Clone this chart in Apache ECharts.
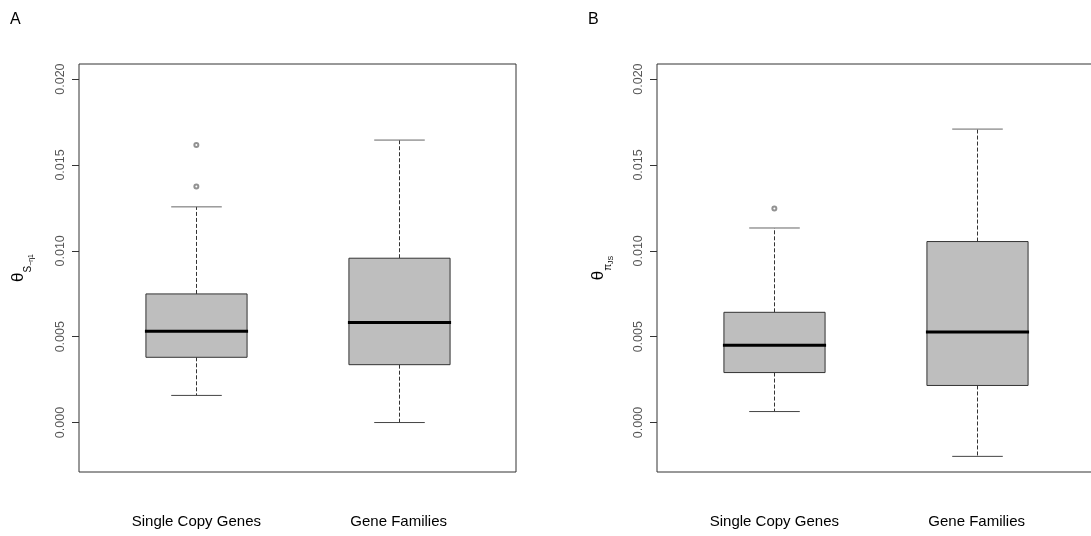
<!DOCTYPE html>
<html>
<head>
<meta charset="utf-8">
<script src="https://cdn.jsdelivr.net/npm/echarts@6/dist/echarts.min.js"></script>
<style>
html,body{margin:0;padding:0;background:#fff;}
#chart{width:1091px;height:536px;}
</style>
</head>
<body>
<div id="chart"></div>
<script>
// ---- data ----
var categories = ['Single Copy Genes', 'Gene Families'];
// [lowerWhisker, Q1, median, Q3, upperWhisker]
var thetaSBoxes = [
  [0.00158, 0.00380, 0.00532, 0.00749, 0.01256],
  [0.00000, 0.00337, 0.00583, 0.00957, 0.01645]
];
var thetaSOutliers = [[0, 0.01616], [0, 0.01374]];
var thetaPiBoxes = [
  [0.00064, 0.00291, 0.00450, 0.00642, 0.01133],
  [-0.00197, 0.00216, 0.00528, 0.01054, 0.01709]
];
var thetaPiOutliers = [[0, 0.01246]];
var yTicks = [0, 0.005, 0.010, 0.015, 0.020];
var yMin = -0.00288, yMax = 0.02088;

var FONT = 'Liberation Sans, Arial, sans-serif';

function boxData(boxes) {
  return boxes.map(function (b, i) { return [i].concat(b); });
}

function renderBox(params, api) {
  var x = api.value(0);
  var lo = api.coord([x, api.value(1)]);
  var q1 = api.coord([x, api.value(2)]);
  var md = api.coord([x, api.value(3)]);
  var q3 = api.coord([x, api.value(4)]);
  var hi = api.coord([x, api.value(5)]);
  var band = api.size([1, 0])[0];
  var bw = band * 0.5;
  var cx = Math.round(q1[0]) + 0.5;
  var half = bw / 2, capHalf = bw / 4;
  var dashStyle = { stroke: '#333', lineWidth: 1, lineDash: [4, 2] };
  return {
    type: 'group',
    children: [
      { type: 'line', shape: { x1: cx, y1: q3[1], x2: cx, y2: hi[1] }, style: dashStyle },
      { type: 'line', shape: { x1: cx, y1: q1[1], x2: cx, y2: lo[1] }, style: dashStyle },
      { type: 'line', shape: { x1: cx - capHalf, y1: hi[1], x2: cx + capHalf, y2: hi[1] }, style: { stroke: '#666', lineWidth: 1 } },
      { type: 'line', shape: { x1: cx - capHalf, y1: lo[1], x2: cx + capHalf, y2: lo[1] }, style: { stroke: '#444', lineWidth: 1 } },
      { type: 'rect', shape: { x: cx - half, y: q3[1], width: bw, height: q1[1] - q3[1] },
        style: { fill: '#bebebe', stroke: '#333', lineWidth: 1 } },
      { type: 'line', shape: { x1: cx - half - 1, y1: md[1], x2: cx + half + 1, y2: md[1] },
        style: { stroke: '#000', lineWidth: 3 } }
    ]
  };
}

var plotTop = 64, plotH = 408, frameW = 437;
var frames = [79, 657];
var inset = 16.2, innerW = 404.6;

var grids = [], xAxes = [], yAxes = [], series = [];
var yNames = ['{t|θ}{s|S}{ss|−η1}', '{t|θ}{s|π}{ss|JS}'];
var nameGaps = [44, 42];
var boxesList = [thetaSBoxes, thetaPiBoxes];
var outList = [thetaSOutliers, thetaPiOutliers];

frames.forEach(function (left, p) {
  grids.push({ left: left, top: plotTop, width: frameW, height: plotH, show: true,
    borderColor: '#333', borderWidth: 1, backgroundColor: 'transparent',
    outerBoundsMode: 'none', containLabel: false });
  grids.push({ left: left + inset, top: plotTop, width: innerW, height: plotH,
    outerBoundsMode: 'none', containLabel: false });
  var gf = p * 2, gd = p * 2 + 1;
  xAxes.push({ gridIndex: gf, type: 'value', min: 0, max: 1, show: false });
  xAxes.push({ gridIndex: gd, type: 'category', data: categories,
    axisLine: { show: false }, axisTick: { show: false }, splitLine: { show: false },
    axisLabel: { margin: 42, fontSize: 15, color: '#000', fontFamily: FONT } });
  yAxes.push({ gridIndex: gf, type: 'value', min: yMin, max: yMax,
    splitLine: { show: false },
    axisLine: { show: false },
    axisTick: { show: true, length: 7, lineStyle: { color: '#333' }, customValues: yTicks },
    axisLabel: { rotate: 90, margin: 12, fontSize: 12.5, color: '#555', fontFamily: FONT,
      customValues: yTicks,
      formatter: function (v) { return v.toFixed(3); } },
    name: yNames[p], nameLocation: 'middle', nameRotate: 90, nameGap: nameGaps[p],
    nameTextStyle: {
      fontFamily: FONT, color: '#000',
      rich: {
        t: { fontSize: 17, verticalAlign: 'bottom', padding: [0, 0, 8, 0], fontFamily: FONT, color: '#000' },
        s: { fontSize: 10, verticalAlign: 'bottom', padding: [0, 0, 2, 0], fontFamily: FONT, color: '#000' },
        ss: { fontSize: 7, verticalAlign: 'bottom', padding: [0, 0, 0, 0], fontFamily: FONT, color: '#000' }
      }
    }
  });
  yAxes.push({ gridIndex: gd, type: 'value', min: yMin, max: yMax, show: false });
  series.push({
    type: 'custom', xAxisIndex: gd, yAxisIndex: gd,
    data: boxData(boxesList[p]),
    encode: { x: 0, y: [1, 2, 3, 4, 5] },
    renderItem: renderBox, silent: true, z: 2
  });
  series.push({
    type: 'scatter', xAxisIndex: gd, yAxisIndex: gd,
    data: outList[p], symbol: 'emptyCircle', symbolSize: 4,
    itemStyle: { color: '#777', borderColor: '#777', borderWidth: 1 }, z: 3, silent: true
  });
});

var chart = echarts.init(document.getElementById('chart'), null, { renderer: 'canvas' });
chart.setOption({
  animation: false,
  backgroundColor: '#fff',
  title: [
    { text: 'A', left: 5, top: 7, textStyle: { fontSize: 16, fontWeight: 'normal', color: '#000', fontFamily: FONT } },
    { text: 'B', left: 583, top: 7, textStyle: { fontSize: 16, fontWeight: 'normal', color: '#000', fontFamily: FONT } }
  ],
  grid: grids,
  xAxis: xAxes,
  yAxis: yAxes,
  series: series
});
</script>
</body>
</html>
